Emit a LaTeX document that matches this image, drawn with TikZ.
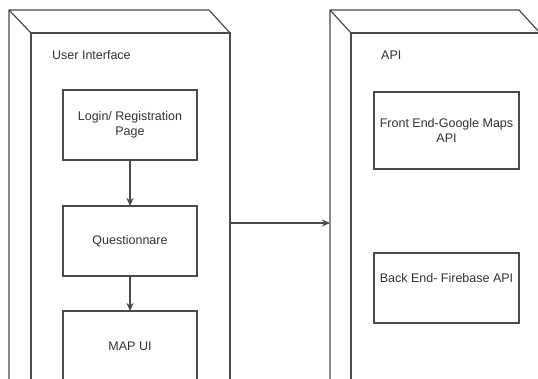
\documentclass[tikz,border=0pt]{standalone}
\usepackage{fontspec}
\setmainfont{Liberation Sans}
\usetikzlibrary{arrows.meta}
\definecolor{edgegray}{HTML}{4A4A4A}
\definecolor{textgray}{HTML}{333333}

\begin{document}
\begin{tikzpicture}[x=1pt, y=-1pt,
    face/.style={draw=edgegray, fill=white, line width=1.2pt, inner sep=0pt, outer sep=0pt},
    backface/.style={inner sep=0pt, outer sep=0pt},
    edge/.style={draw=edgegray, line width=1.2pt, line join=miter},
    comp/.style={draw=edgegray, fill=white, line width=1.2pt, outer sep=0pt, minimum width=134pt, minimum height=70pt,
                 align=center, text=textgray, font=\fontsize{12.5}{15}\selectfont},
    flow/.style={-{Stealth[length=8pt,width=7pt]}, draw=edgegray, line width=1.2pt},
    caption/.style={anchor=west, inner sep=0pt, text=textgray, font=\fontsize{12.5}{15}\selectfont}]
    \useasboundingbox (0,0) rectangle (538,378);

    % User interface block
    \node[backface, minimum width=200pt, minimum height=426pt] (uiback) at (109,223) {};
    \node[face, minimum width=199pt, minimum height=380pt] (ui) at (130.5,223) {};
    \draw[edge] (uiback.south west) -- (uiback.north west) -- (uiback.north east) -- (ui.north east)
                (uiback.north west) -- (ui.north west);
    \node[caption] (uititle) at (52,55) {User Interface};

    \node[comp] (login) at (130,125) {Login/ Registration\\Page};
    \node[comp] (quest) at (130,241) {Questionnare};
    \node[comp] (mapui) at (130,346) {MAP UI};
    \draw[flow] (login) -- (quest);
    \draw[flow] (quest) -- (mapui);

    % API block
    \node[backface, minimum width=189pt, minimum height=426pt] (apiback) at (424.5,223) {};
    \node[face, minimum width=189pt, minimum height=380pt] (api) at (445.5,223) {};
    \draw[edge] (apiback.south west) -- (apiback.north west) -- (apiback.north east) -- (api.north east)
                (apiback.north west) -- (api.north west);
    \node[caption] (apititle) at (381,55) {API};

    \node[comp, minimum width=145pt, minimum height=77pt] (frontend) at (446.5,130.5) {Front End-Google Maps\\API};
    \node[comp, minimum width=145pt, text depth=20pt] (backend) at (446.5,288) {Back End- Firebase API};

    % Link between blocks
    \draw[flow] (ui.east) -- (apiback.west);
\end{tikzpicture}
\end{document}
